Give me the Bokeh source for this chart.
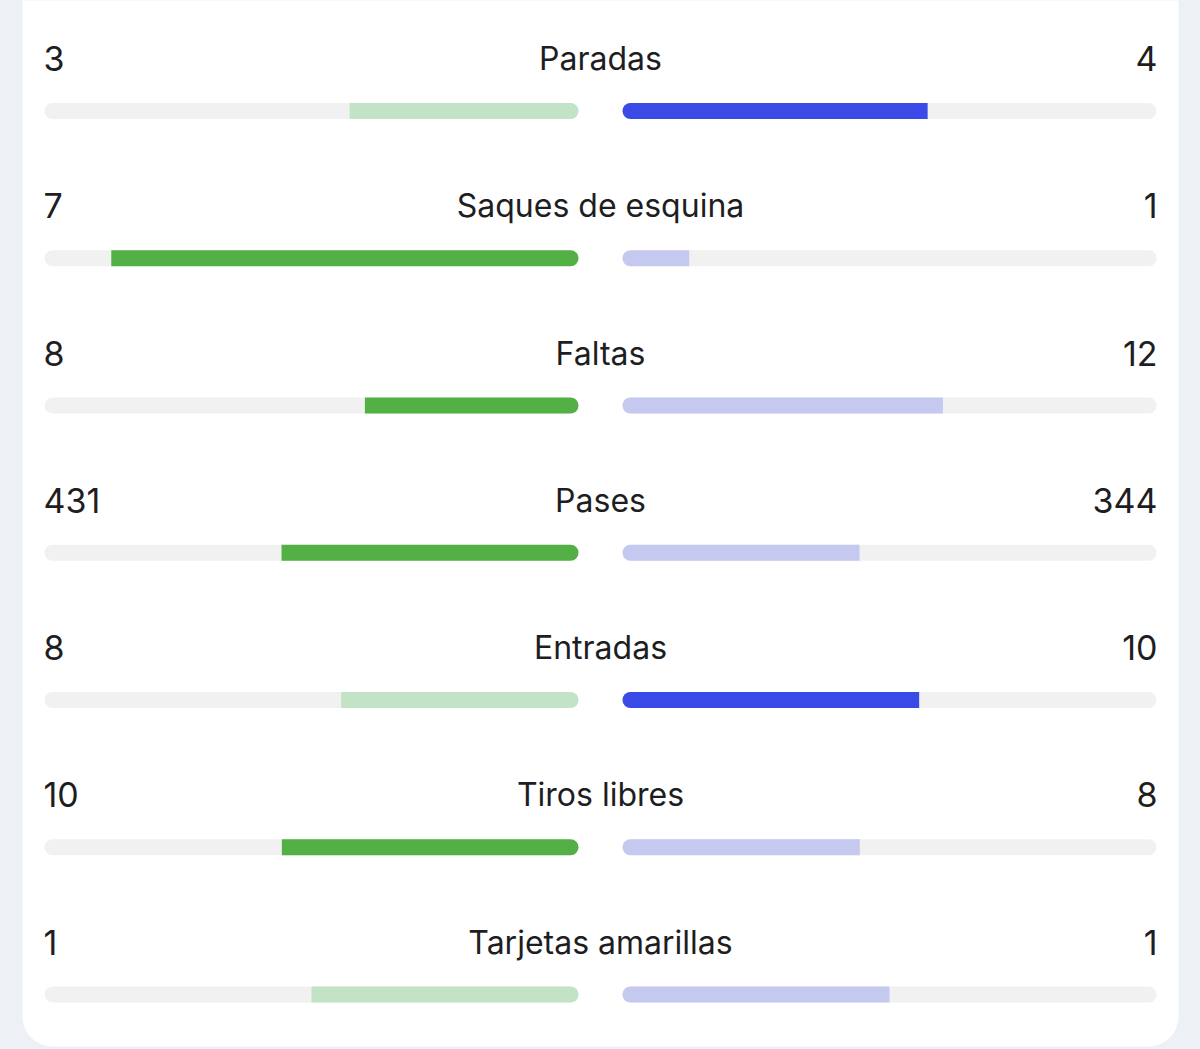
from bokeh.plotting import figure
from bokeh.models import Range1d, ColumnDataSource
from bokeh.core.properties import value
from bokeh.embed import file_html
from bokeh.resources import INLINE

# ---- data ----
stats = ["Paradas", "Saques de esquina", "Faltas", "Pases", "Entradas",
         "Tiros libres", "Tarjetas amarillas"]
home = [3, 7, 8, 431, 8, 10, 1]
away = [4, 1, 12, 344, 10, 8, 1]
highlight = ["away", "home", "home", "home", "away", "home", "none"]

# ---- layout constants ----
W, H = 1200, 1049
LEFT_START, LEFT_END = 44, 578
RIGHT_START, RIGHT_END = 622, 1156
TRACK = LEFT_END - LEFT_START
ROW0, PITCH = 110.5, 147.25
BAR_H = 16
TEXT_DY = 52.5

BG = "#edf0f5"
TRACK_C = "#f1f1f1"
GREEN_D, GREEN_L = "#52b044", "#c2e3c6"
BLUE_D, BLUE_L = "#3a4ae6", "#c6c9ef"
TEXT_C = "#1e1e22"

ys, lf_l, lf_r, lf_c, rf_l, rf_r, rf_c = [], [], [], [], [], [], []
for i, (h, a, hl) in enumerate(zip(home, away, highlight)):
    y = ROW0 + i * PITCH
    ys.append(y)
    tot = h + a
    lw = TRACK * h / tot
    rw = TRACK * a / tot
    lf_l.append(LEFT_END - lw); lf_r.append(LEFT_END)
    rf_l.append(RIGHT_START); rf_r.append(RIGHT_START + rw)
    lf_c.append(GREEN_D if hl == "home" else GREEN_L)
    rf_c.append(BLUE_D if hl == "away" else BLUE_L)

p = figure(width=W, height=H, x_range=Range1d(0, W), y_range=Range1d(H, 0),
           output_backend="svg", toolbar_location=None, min_border=0)
p.axis.visible = False
p.grid.visible = False
p.outline_line_color = None
p.background_fill_color = BG
p.border_fill_color = BG

# card
p.quad(left=[22], right=[1178], top=[-100], bottom=[1046], fill_color="white",
       line_color=None, border_radius=30)

n = len(stats)
# tracks
p.hbar(y=ys * 2, left=[LEFT_START] * n + [RIGHT_START] * n,
       right=[LEFT_END] * n + [RIGHT_END] * n, height=BAR_H,
       fill_color=TRACK_C, line_color=None, border_radius=8)
# fills
p.hbar(source=ColumnDataSource(dict(y=ys, left=lf_l, right=lf_r, c=lf_c)),
       y="y", left="left", right="right", height=BAR_H, fill_color="c",
       line_color=None, border_radius=(0, 8, 8, 0))
p.hbar(source=ColumnDataSource(dict(y=ys, left=rf_l, right=rf_r, c=rf_c)),
       y="y", left="left", right="right", height=BAR_H, fill_color="c",
       line_color=None, border_radius=(8, 0, 0, 8))

ty = [y - TEXT_DY for y in ys]
font = value("Inter")
p.text(x=[LEFT_START - 1] * n, y=ty, text=[str(v) for v in home], text_font=font,
       text_font_size="34px", text_color=TEXT_C, text_align="left",
       text_baseline="alphabetic")
p.text(x=[RIGHT_END + 1] * n, y=ty, text=[str(v) for v in away], text_font=font,
       text_font_size="34px", text_color=TEXT_C, text_align="right",
       text_baseline="alphabetic")
p.text(x=[600] * n, y=ty, text=stats, text_font=font,
       text_font_size="32px", text_color=TEXT_C, text_align="center",
       text_baseline="alphabetic")

html = file_html(p, INLINE)
html = html.replace("</head>",
                    "<style>html,body{margin:0;padding:0;background:#edf0f5;overflow:hidden}</style></head>", 1)
open("out.html", "w").write(html)
